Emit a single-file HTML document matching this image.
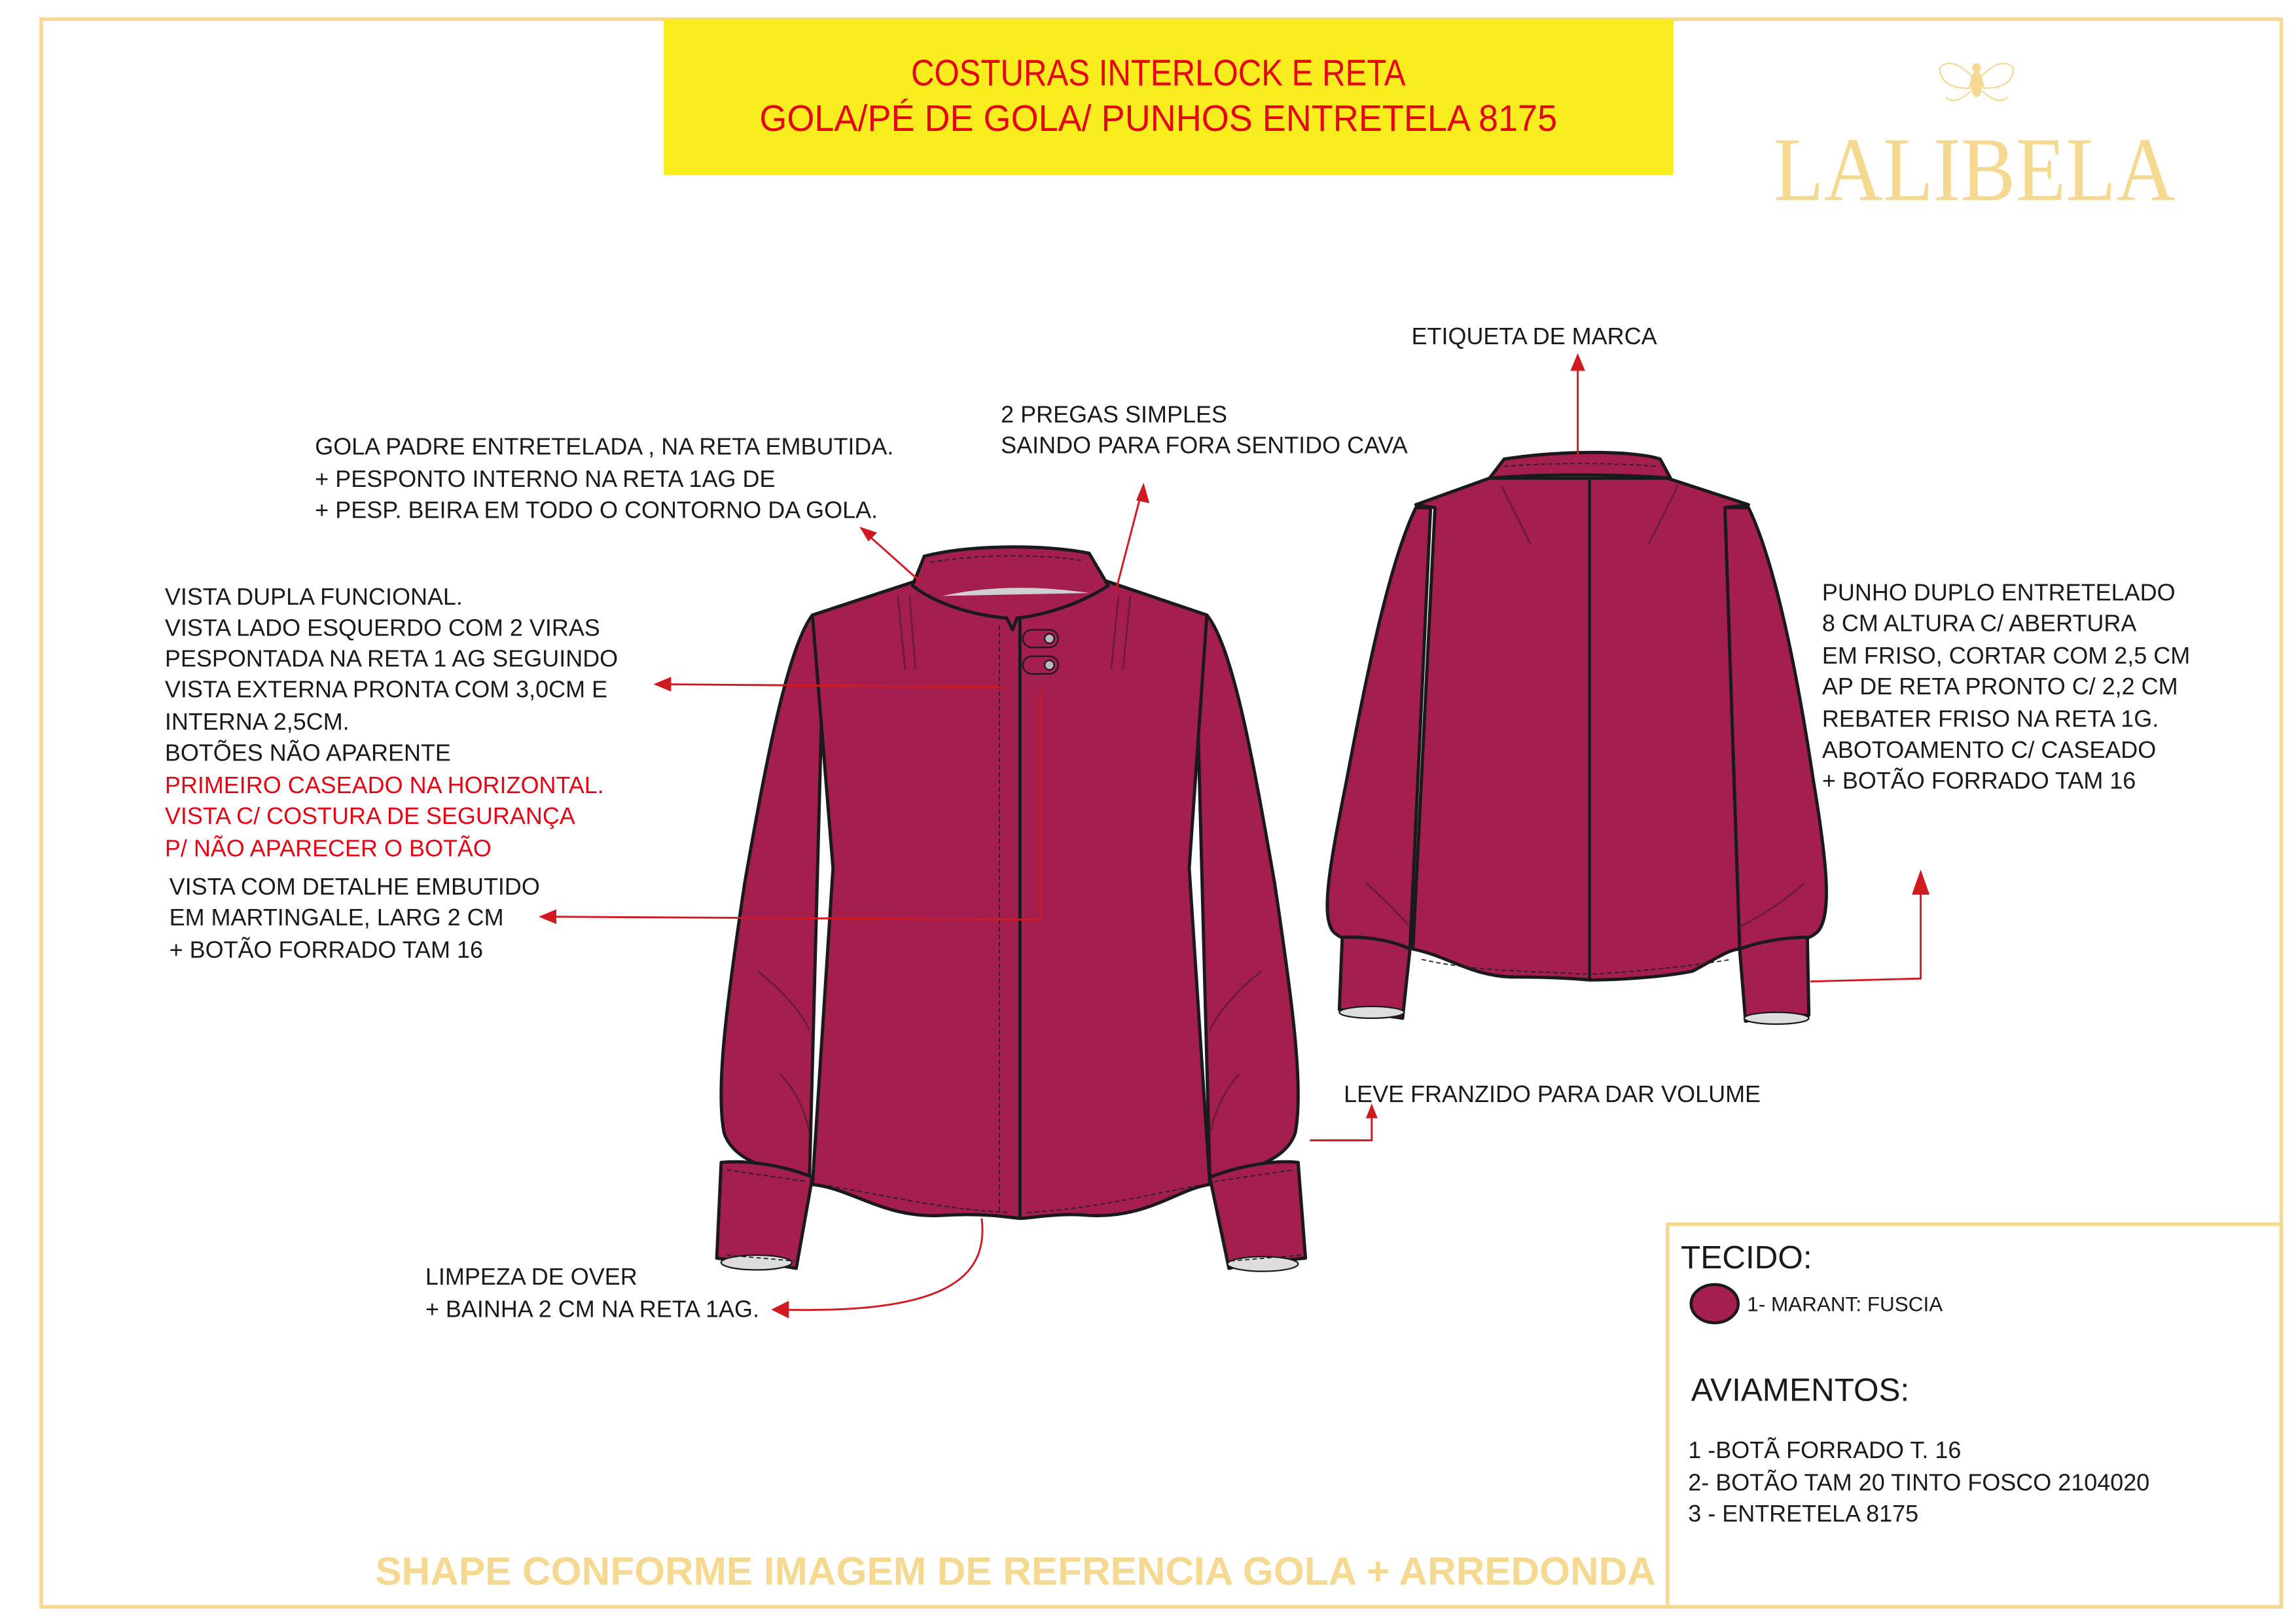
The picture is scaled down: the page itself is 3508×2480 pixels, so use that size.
<!DOCTYPE html>
<html><head><meta charset="utf-8"><style>
html,body{margin:0;padding:0;background:#fff}
svg{display:block}
text{font-family:"Liberation Sans",Arial,sans-serif}
</style></head><body>
<svg width="3508" height="2480" viewBox="0 0 1560 1103" preserveAspectRatio="none" xmlns="http://www.w3.org/2000/svg">
<rect x="0" y="0" width="1560" height="1103" fill="#fff"/>
<!-- frame -->
<rect x="28" y="13" width="1522" height="1079" fill="none" stroke="#f5d991" stroke-width="2.5"/>
<rect x="1133" y="832" width="417" height="260" fill="none" stroke="#f5d991" stroke-width="2.5"/>
<!-- header -->
<rect x="451" y="13" width="686" height="106" fill="#f9ec1f"/>
<text x="787" y="58" font-size="25" fill="#e30613" text-anchor="middle" textLength="336" lengthAdjust="spacingAndGlyphs">COSTURAS INTERLOCK E RETA</text>
<text x="787" y="89" font-size="25" fill="#e30613" text-anchor="middle" textLength="542" lengthAdjust="spacingAndGlyphs">GOLA/PÉ DE GOLA/ PUNHOS ENTRETELA 8175</text>
<!-- logo -->
<g fill="#f5d991" stroke="#f5d991">
<ellipse cx="1343" cy="57" rx="4" ry="9" stroke="none"/>
<circle cx="1343" cy="46" r="3" stroke="none"/>
<path d="M1340 52 Q1326 38 1318 46 Q1318 60 1338 60Z" fill="none" stroke-width="1"/>
<path d="M1346 52 Q1360 38 1368 46 Q1368 60 1348 60Z" fill="none" stroke-width="1"/>
<path d="M1339 62 Q1328 72 1322 66" fill="none" stroke-width="1"/>
<path d="M1347 62 Q1358 72 1364 66" fill="none" stroke-width="1"/>
</g>
<text x="1205" y="136" font-size="62" fill="#f5d991" style="font-family:'Liberation Serif',serif" textLength="273" lengthAdjust="spacingAndGlyphs">LALIBELA</text>

<!-- FRONT SHIRT -->
<g stroke="#1a1a1a" stroke-width="2.2" fill="#a51e50" stroke-linejoin="round">
<path d="M552 418 C535 440 520 520 506 600 C494 680 486 740 492 770 C498 788 520 795 550 800 L560 418Z"/>
<path d="M820 418 C838 440 852 520 866 600 C878 680 886 740 880 770 C874 788 852 795 822 800 L812 418Z"/>
<path d="M622 395 L552 418 L566 590 L552 805 C580 808 600 828 640 826 C670 824 690 828 693 828 C700 828 720 824 740 826 C780 828 800 808 822 805 L808 590 L820 418 L752 395Z"/>
<path d="M490 790 C510 788 535 793 552 800 L541 862 C520 858 500 857 487 855Z"/>
<path d="M822 800 C840 793 865 788 882 790 L887 855 C870 857 850 858 835 862Z"/>
<path d="M628 378 C660 370 710 370 740 376 L753 398 C735 410 710 418 691 420 L688 428 L684 420 C660 418 635 410 620 398Z"/>
</g>
<ellipse cx="514" cy="858" rx="24" ry="5" fill="#ddd" stroke="#1a1a1a" stroke-width="1"/>
<ellipse cx="858" cy="859" rx="24" ry="5" fill="#ddd" stroke="#1a1a1a" stroke-width="1"/>
<path d="M640 405 Q686 395 740 403" fill="#cfcfcf" stroke="none"/>
<line x1="693" y1="420" x2="693" y2="828" stroke="#1a1a1a" stroke-width="2.2"/>
<line x1="679" y1="425" x2="679" y2="825" stroke="#222" stroke-width="0.8" stroke-dasharray="3,2"/>
<path d="M558 805 C600 812 640 822 686 824 M698 824 C740 822 780 812 818 805" fill="none" stroke="#222" stroke-width="0.8" stroke-dasharray="3,2"/>
<path d="M494 795 L548 803 M494 853 L540 857 M825 803 L879 795 M836 857 L884 853" fill="none" stroke="#222" stroke-width="0.8" stroke-dasharray="3,2"/>
<path d="M632 382 Q686 374 736 381" fill="none" stroke="#222" stroke-width="0.8" stroke-dasharray="3,2"/>
<g stroke="#5b1a30" stroke-width="1.2" fill="none" opacity="0.8">
<path d="M610 405 L615 455 M618 405 L622 455 M760 405 L755 455 M768 405 L763 455"/>
<path d="M530 730 Q545 745 550 770 M842 730 Q828 745 822 770"/>
<path d="M515 660 Q540 680 550 700 M857 660 Q832 680 822 700"/>
</g>
<g stroke="#1a1a1a" stroke-width="1" fill="#a51e50">
<rect x="695" y="428" width="24" height="12" rx="6"/>
<rect x="695" y="446" width="24" height="12" rx="6"/>
<circle cx="713" cy="434" r="3.2" fill="#bbb"/>
<circle cx="713" cy="452" r="3.2" fill="#bbb"/>
</g>

<!-- BACK SHIRT -->
<g stroke="#1a1a1a" stroke-width="2.2" fill="#a51e50" stroke-linejoin="round">
<path d="M962 345 C945 380 930 450 915 530 C903 590 898 620 905 632 C910 640 935 645 958 645 L972 345Z"/>
<path d="M1188 345 C1205 380 1220 450 1232 530 C1242 590 1244 620 1236 632 C1230 640 1205 645 1182 645 L1172 345Z"/>
<path d="M1012 325 L962 343 L975 345 L960 645 C985 650 1000 664 1030 664 C1060 664 1080 666 1080 666 C1100 666 1130 664 1150 660 C1165 652 1175 645 1182 645 L1172 345 L1188 343 L1133 325Z"/>
<path d="M912 637 C930 636 948 640 958 645 L953 692 C940 690 925 688 910 686Z"/>
<path d="M1182 645 C1195 640 1212 637 1228 637 L1229 690 C1215 690 1200 692 1186 694Z"/>
<path d="M1012 325 L1022 312 C1060 306 1110 306 1128 312 L1135 325 C1100 322 1045 322 1012 325Z"/>
</g>
<ellipse cx="932" cy="688" rx="22" ry="4" fill="#ddd" stroke="#1a1a1a" stroke-width="1"/>
<ellipse cx="1207" cy="692" rx="22" ry="4" fill="#ddd" stroke="#1a1a1a" stroke-width="1"/>
<line x1="1080" y1="326" x2="1080" y2="666" stroke="#1a1a1a" stroke-width="2"/>
<path d="M1022 317 Q1075 313 1126 317 M966 652 C1000 660 1040 660 1078 662 M1082 662 C1120 660 1160 655 1176 652" fill="none" stroke="#222" stroke-width="0.8" stroke-dasharray="3,2"/>
<g stroke="#5b1a30" stroke-width="1.2" fill="none" opacity="0.8">
<path d="M1020 330 Q1030 350 1040 370 M1140 330 Q1130 350 1120 370 M928 600 Q945 615 958 630 M1226 600 Q1210 615 1182 630"/>
</g>

<!-- RED ARROWS -->
<g stroke="#d01a1f" stroke-width="1.3" fill="none">
<path d="M625 395 L588 362"/>
<path d="M758 402 L776 333"/>
<path d="M682 467 L450 465"/>
<path d="M707 470 L707 625 L372 623"/>
<path d="M667 828 C672 870 640 893 530 890"/>
<path d="M1072 310 L1072 246"/>
<path d="M1230 667 L1305 665 L1305 598"/>
<path d="M890 775 L932 775 L932 755"/>
</g>
<g fill="#d01a1f">
<path d="M584 358 L596 362 L590 368Z"/>
<path d="M777 328 L781 342 L772 340Z"/>
<path d="M444 465 L456 460 L456 470Z"/>
<path d="M366 623 L378 618 L378 628Z"/>
<path d="M524 890 L536 884 L536 896Z"/>
<path d="M1072 240 L1067 252 L1077 252Z"/>
<path d="M1305 591 L1299 608 L1311 608Z"/>
<path d="M932 750 L928 760 L936 760Z"/>
</g>

<!-- TEXT -->
<g font-size="16" fill="#1a1a1a">
<text x="214" y="309">GOLA  PADRE ENTRETELADA ,  NA RETA EMBUTIDA.</text>
<text x="214" y="331">+ PESPONTO INTERNO NA RETA 1AG DE</text>
<text x="214" y="352">+ PESP. BEIRA EM TODO O CONTORNO DA GOLA.</text>
<text x="680" y="287">2 PREGAS SIMPLES</text>
<text x="680" y="308">SAINDO PARA FORA SENTIDO CAVA</text>
<text x="959" y="234">ETIQUETA  DE MARCA</text>
<text x="112" y="411">VISTA DUPLA FUNCIONAL.</text>
<text x="112" y="432">VISTA LADO ESQUERDO COM 2 VIRAS</text>
<text x="112" y="453">PESPONTADA NA RETA 1 AG SEGUINDO</text>
<text x="112" y="474">VISTA EXTERNA PRONTA COM 3,0CM E</text>
<text x="112" y="496">INTERNA 2,5CM.</text>
<text x="112" y="517">BOTÕES NÃO APARENTE</text>
<text x="112" y="539" fill="#e30613">PRIMEIRO CASEADO NA HORIZONTAL.</text>
<text x="112" y="560" fill="#e30613">VISTA C/ COSTURA DE SEGURANÇA</text>
<text x="112" y="582" fill="#e30613">P/ NÃO APARECER O BOTÃO</text>
<text x="115" y="608">VISTA COM DETALHE EMBUTIDO</text>
<text x="115" y="629">EM MARTINGALE, LARG 2 CM</text>
<text x="115" y="651"> + BOTÃO FORRADO TAM 16</text>
<text x="1238" y="408">PUNHO DUPLO ENTRETELADO</text>
<text x="1238" y="429">8 CM ALTURA  C/ ABERTURA</text>
<text x="1238" y="451">EM FRISO, CORTAR COM 2,5 CM</text>
<text x="1238" y="472">AP DE RETA PRONTO C/ 2,2 CM</text>
<text x="1238" y="494">REBATER FRISO NA RETA 1G.</text>
<text x="1238" y="515">ABOTOAMENTO C/ CASEADO</text>
<text x="1238" y="536"> + BOTÃO FORRADO TAM 16</text>
<text x="913" y="749">LEVE FRANZIDO PARA DAR VOLUME</text>
<text x="289" y="873">LIMPEZA DE OVER</text>
<text x="289" y="895">+ BAINHA 2 CM NA RETA 1AG.</text>
</g>
<text x="1142" y="862" font-size="22" fill="#1a1a1a">TECIDO:</text>
<ellipse cx="1165" cy="886" rx="16" ry="13" fill="#a51e50" stroke="#1a1a1a" stroke-width="2"/>
<text x="1187" y="891" font-size="14" fill="#1a1a1a">1- MARANT: FUSCIA</text>
<text x="1149" y="952" font-size="22" fill="#1a1a1a">AVIAMENTOS:</text>
<g font-size="16" fill="#1a1a1a">
<text x="1147" y="991">1 -BOTÃ FORRADO T. 16</text>
<text x="1147" y="1013">2- BOTÃO TAM 20 TINTO FOSCO 2104020</text>
<text x="1147" y="1034">3 - ENTRETELA 8175</text>
</g>
<text x="255" y="1077" font-size="27" font-weight="bold" fill="#f5d991" textLength="870" lengthAdjust="spacingAndGlyphs">SHAPE CONFORME IMAGEM DE REFRENCIA GOLA + ARREDONDA</text>
</svg>
</body></html>
